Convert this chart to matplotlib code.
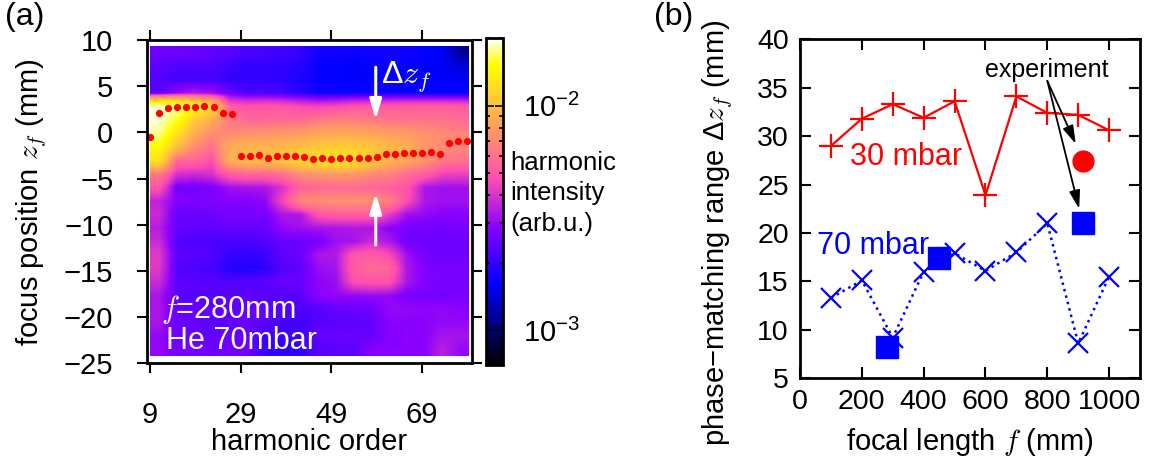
import matplotlib
matplotlib.use("Agg")
import matplotlib.pyplot as plt
import numpy as np
from matplotlib.colors import LogNorm

plt.rcParams['font.family'] = ['Liberation Sans', 'DejaVu Sans']
plt.rcParams['font.size'] = 21
plt.rcParams['mathtext.fontset'] = 'custom'
plt.rcParams['mathtext.rm'] = 'Liberation Sans'
plt.rcParams['mathtext.it'] = 'cmmi10'
plt.rcParams['mathtext.sf'] = 'Liberation Sans'

# --- (a) harmonic map, log10 of intensity (arb.u.), rows top (z=+9) -> bottom (z=-24) ---
map_log = [
    [-2.59, -2.59, -2.60, -2.61, -2.62, -2.66, -2.66, -2.67, -2.69, -2.76, -2.76, -2.77, -2.76, -2.76, -2.77, -2.78, -2.80, -2.94],
    [-2.62, -2.64, -2.64, -2.64, -2.68, -2.70, -2.70, -2.71, -2.72, -2.78, -2.78, -2.79, -2.78, -2.78, -2.78, -2.79, -2.80, -2.84],
    [-2.64, -2.66, -2.66, -2.66, -2.69, -2.70, -2.70, -2.71, -2.74, -2.78, -2.78, -2.80, -2.78, -2.78, -2.78, -2.78, -2.79, -2.80],
    [-2.62, -2.52, -2.47, -2.50, -2.59, -2.64, -2.64, -2.66, -2.70, -2.76, -2.76, -2.77, -2.76, -2.77, -2.78, -2.78, -2.78, -2.78],
    [-1.72, -1.74, -1.82, -1.92, -2.28, -2.30, -2.29, -2.30, -2.33, -2.35, -2.33, -2.30, -2.29, -2.28, -2.27, -2.27, -2.27, -2.28],
    [-1.72, -1.80, -1.97, -2.05, -2.20, -2.25, -2.25, -2.24, -2.24, -2.20, -2.18, -2.18, -2.19, -2.21, -2.22, -2.22, -2.22, -2.24],
    [-1.75, -1.90, -2.05, -2.15, -2.15, -2.12, -2.12, -2.11, -2.10, -2.07, -2.06, -2.06, -2.07, -2.09, -2.10, -2.12, -2.15, -2.16],
    [-1.83, -2.00, -2.15, -2.22, -2.05, -2.03, -2.03, -2.02, -2.00, -1.97, -1.96, -1.96, -1.98, -2.02, -2.04, -2.12, -2.14, -2.16],
    [-1.90, -2.25, -2.25, -2.32, -2.05, -2.01, -2.00, -1.98, -1.92, -1.90, -1.88, -1.89, -1.95, -2.04, -2.07, -2.12, -2.20, -2.22],
    [-2.20, -2.40, -2.42, -2.40, -2.28, -2.25, -2.25, -2.22, -2.14, -2.12, -2.10, -2.11, -2.15, -2.16, -2.24, -2.27, -2.35, -2.36],
    [-2.30, -2.58, -2.59, -2.57, -2.50, -2.49, -2.48, -2.40, -2.27, -2.25, -2.24, -2.24, -2.25, -2.28, -2.30, -2.48, -2.50, -2.50],
    [-2.44, -2.55, -2.56, -2.55, -2.55, -2.55, -2.53, -2.34, -2.16, -2.14, -2.13, -2.13, -2.14, -2.18, -2.32, -2.48, -2.50, -2.50],
    [-2.42, -2.60, -2.60, -2.59, -2.57, -2.57, -2.57, -2.48, -2.47, -2.30, -2.28, -2.28, -2.28, -2.37, -2.50, -2.52, -2.54, -2.54],
    [-2.46, -2.60, -2.61, -2.62, -2.60, -2.60, -2.60, -2.52, -2.50, -2.49, -2.48, -2.47, -2.48, -2.54, -2.57, -2.58, -2.58, -2.57],
    [-2.42, -2.64, -2.65, -2.65, -2.66, -2.65, -2.64, -2.60, -2.60, -2.58, -2.50, -2.49, -2.42, -2.48, -2.58, -2.59, -2.60, -2.59],
    [-2.38, -2.62, -2.62, -2.64, -2.69, -2.70, -2.68, -2.61, -2.60, -2.48, -2.47, -2.30, -2.28, -2.33, -2.50, -2.58, -2.59, -2.59],
    [-2.38, -2.64, -2.65, -2.66, -2.72, -2.73, -2.71, -2.63, -2.62, -2.51, -2.49, -2.28, -2.24, -2.25, -2.48, -2.56, -2.57, -2.57],
    [-2.42, -2.62, -2.62, -2.63, -2.64, -2.64, -2.62, -2.60, -2.60, -2.53, -2.51, -2.32, -2.30, -2.31, -2.48, -2.56, -2.57, -2.57],
    [-2.48, -2.62, -2.63, -2.64, -2.63, -2.62, -2.63, -2.64, -2.62, -2.54, -2.52, -2.52, -2.51, -2.52, -2.57, -2.57, -2.58, -2.57],
    [-2.48, -2.60, -2.60, -2.61, -2.61, -2.60, -2.61, -2.64, -2.65, -2.64, -2.60, -2.60, -2.59, -2.52, -2.52, -2.53, -2.52, -2.54],
    [-2.48, -2.60, -2.60, -2.62, -2.61, -2.60, -2.62, -2.66, -2.67, -2.63, -2.62, -2.62, -2.61, -2.54, -2.54, -2.54, -2.52, -2.52],
    [-2.52, -2.59, -2.60, -2.61, -2.60, -2.60, -2.67, -2.68, -2.67, -2.61, -2.60, -2.60, -2.60, -2.55, -2.54, -2.54, -2.49, -2.49],
    [-2.52, -2.58, -2.58, -2.59, -2.58, -2.59, -2.70, -2.71, -2.70, -2.63, -2.62, -2.62, -2.55, -2.54, -2.54, -2.54, -2.45, -2.52],
]
map_orders = (9, 79.3)      # harmonic order range of the map
map_z = (-24.2, 9.35)       # focus position range (mm)

# optimum focus position per harmonic (red dots)
opt_orders = list(range(9, 80, 2))
opt_z = [-0.45, 2.1, 2.6, 2.7, 2.7, 2.8, 2.9, 2.8, 2.1, 2.0,
         -2.6, -2.6, -2.4, -2.8, -2.6, -2.6, -2.6, -2.7, -2.9, -2.8,
         -2.85, -2.8, -2.75, -2.8, -2.8, -2.7, -2.3, -2.3, -2.25, -2.25,
         -2.25, -2.15, -2.3, -1.2, -0.9, -0.9]

# --- (b) phase-matching range vs focal length ---
f_sim = [100, 200, 300, 400, 500, 600, 700, 800, 900, 1000]
range_30 = [29.0, 31.8, 33.3, 31.9, 33.6, 23.9, 34.1, 32.4, 32.2, 30.6]
range_70 = [13.3, 15.1, 9.2, 16.0, 17.9, 16.1, 18.0, 21.0, 8.6, 15.5]
exp_f_70 = [280, 450, 915]
exp_range_70 = [8.2, 17.4, 21.0]
exp_f_30 = [915]
exp_range_30 = [27.4]

fig = plt.figure(figsize=(11.49, 4.61), dpi=100)

# ---------------- panel (a) ----------------
ax1 = fig.add_axes([0.1277, 0.2119, 0.2829, 0.7013])
norm = LogNorm(vmin=7e-4, vmax=2e-2)
im = ax1.imshow(10 ** np.array(map_log), cmap='gnuplot2', norm=norm, aspect='auto',
                interpolation='bilinear',
                extent=[map_orders[0], map_orders[1], map_z[0], map_z[1]])
ax1.plot(opt_orders, opt_z, 'o', color='red', ms=5.2, mec='none')
ax1.set_xlim(8.25, 80)
ax1.set_ylim(-25, 10)
ax1.set_xticks([9, 29, 49, 69])
ax1.set_yticks(range(-25, 11, 5))
ax1.set_yticklabels([str(v).replace('-', '\u2212') for v in range(-25, 11, 5)])
ax1.tick_params(axis='both', which='major', direction='out', length=7, width=1.5,
                top=True, right=True, labelsize=21)
ax1.tick_params(axis='x', pad=20)
ax1.tick_params(axis='y', pad=17)
for s in ax1.spines.values():
    s.set_linewidth(2)
ax1.set_xlabel('harmonic order')
ax1.xaxis.set_label_coords(0.5, -0.2)
ax1.set_ylabel(r'focus position $z_f$ (mm)')
ax1.yaxis.set_label_coords(-0.30, 0.5)

ax1.annotate('', xy=(58.8, 1.4), xytext=(58.8, 7.05),
             arrowprops=dict(arrowstyle='-|>,head_length=1.0,head_width=0.3', color='white',
                             lw=2.2, mutation_scale=12, shrinkA=0, shrinkB=0))
ax1.annotate('', xy=(58.8, -6.6), xytext=(58.8, -12.2),
             arrowprops=dict(arrowstyle='-|>,head_length=1.0,head_width=0.3', color='white',
                             lw=2.2, mutation_scale=12, shrinkA=0, shrinkB=0))
ax1.text(60.0, 6.0, r'$\Delta z_f$', color='white', fontsize=23, va='center', ha='left')
ax1.text(11.3, -20.1, r'$f$=280mm', color='white', fontsize=22, va='baseline')
ax1.text(12.5, -23.5, 'He 70mbar', color='white', fontsize=22, va='baseline')

cax = fig.add_axes([0.4227, 0.2082, 0.0153, 0.7087])
cb = fig.colorbar(im, cax=cax)
cb.outline.set_linewidth(2)
cax.tick_params(which='both', direction='in', left=True, right=True, width=1.2, labelsize=21, pad=14)
cax.tick_params(which='major', length=6)
cax.tick_params(which='minor', length=3)
fig.text(0.4439, 1 - 170 / 461, 'harmonic', fontsize=18.5, va='baseline')
fig.text(0.4439, 1 - 200 / 461, 'intensity', fontsize=18.5, va='baseline')
fig.text(0.4439, 1 - 231 / 461, '(arb.u.)', fontsize=18.5, va='baseline')

# ---------------- panel (b) ----------------
ax2 = fig.add_axes([0.6963, 0.1794, 0.2959, 0.7354])
ax2.plot(f_sim, range_30, '-', color='red', lw=1.6, marker='+', ms=17, mew=1.6)
ax2.plot(f_sim, range_70, ':', color='blue', lw=1.8, marker='x', ms=15, mew=1.6)
ax2.plot(exp_f_70, exp_range_70, 's', color='blue', ms=16, zorder=5)
ax2.plot(exp_f_30, exp_range_30, 'o', color='red', ms=15, zorder=5)
ax2.set_xlim(0, 1100)
ax2.set_ylim(5, 40)
ax2.set_xticks(range(0, 1001, 200))
ax2.set_yticks(range(5, 41, 5))
ax2.tick_params(axis='both', direction='in', length=8, width=1.5, top=True, right=True,
                labelsize=20.5, pad=8)
for s in ax2.spines.values():
    s.set_linewidth(2)
ax2.set_xlabel(r'focal length $f$ (mm)')
ax2.xaxis.set_label_coords(0.5, -0.14)
ax2.set_ylabel(r'phase$-$matching range $\Delta z_f$ (mm)')
ax2.yaxis.set_label_coords(-0.19, 0.43)

ax2.text(162, 27.0, '30 mbar', color='red', fontsize=22, va='baseline')
ax2.text(54, 17.8, '70 mbar', color='blue', fontsize=22, va='baseline')
ax2.text(798, 36.15, 'experiment', fontsize=18, ha='center', va='baseline')
for end in [(892, 29.2), (903, 22.5)]:
    ax2.annotate('', xy=end, xytext=(800, 35.7),
                 arrowprops=dict(arrowstyle='-|>,head_length=1.0,head_width=0.3', color='black',
                                 lw=1.3, mutation_scale=11, shrinkA=0, shrinkB=0))

fig.text(0.004, 0.995, '(a)', fontsize=23, va='top')
fig.text(0.569, 0.995, '(b)', fontsize=23, va='top')

fig.savefig('out.png', dpi=100)
